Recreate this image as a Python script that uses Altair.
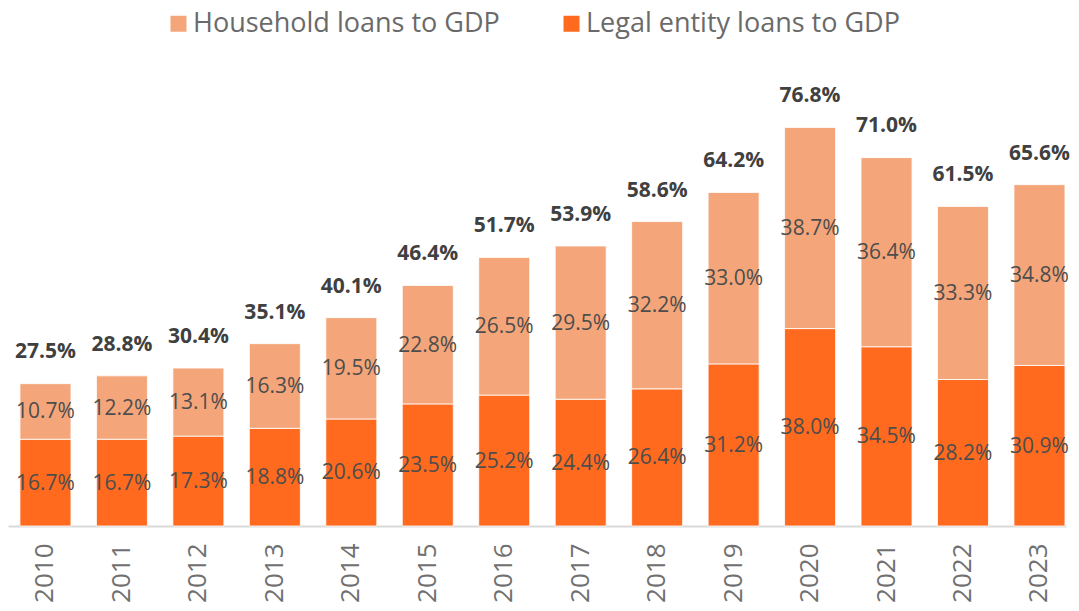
import altair as alt
import pandas as pd

years = [str(y) for y in range(2010, 2024)]
legal = [16.7, 16.7, 17.3, 18.8, 20.6, 23.5, 25.2, 24.4, 26.4, 31.2, 38.0, 34.5, 28.2, 30.9]
household = [10.7, 12.2, 13.1, 16.3, 19.5, 22.8, 26.5, 29.5, 32.2, 33.0, 38.7, 36.4, 33.3, 34.8]
totals = [27.5, 28.8, 30.4, 35.1, 40.1, 46.4, 51.7, 53.9, 58.6, 64.2, 76.8, 71.0, 61.5, 65.6]

S_HH = "Household loans to GDP"
S_LE = "Legal entity loans to GDP"

rows = []
for y, l, h in zip(years, legal, household):
    rows.append({"year": y, "series": S_LE, "value": l, "ord": 0})
    rows.append({"year": y, "series": S_HH, "value": h, "ord": 1})
df = pd.DataFrame(rows)
tot = pd.DataFrame({"year": years, "total": totals})

FONT = "Open Sans"
ymax = 99.7

xenc = alt.X("year:N", sort=years, title=None,
             scale=alt.Scale(paddingInner=0.333, paddingOuter=0.085, align=0.92),
             axis=alt.Axis(labelAngle=-90, labelFontSize=26, labelColor="#707070",
                           labelFont=FONT, labelPadding=17, ticks=False,
                           domainColor="#d9d9d9", domainWidth=2, labelBaseline="middle"))
yscale = alt.Scale(domain=[0, ymax], nice=False)

base = alt.Chart(df).transform_stack(
    stack="value", groupby=["year"], as_=["y0", "y1"], sort=[alt.SortField("ord")]
).transform_calculate(mid="(datum.y0 + datum.y1) / 2",
                      lbl="format(datum.value, '.1f') + '%'")

bars = base.mark_bar(stroke="white", strokeWidth=0.8).encode(
    x=xenc,
    y=alt.Y("y0:Q", scale=yscale, axis=None, title=None),
    y2="y1:Q",
    color=alt.Color("series:N",
                    scale=alt.Scale(domain=[S_HH, S_LE], range=["#F4A67A", "#FF6A1F"]),
                    legend=alt.Legend(title=None, orient="none", legendX=157, legendY=2,
                                      direction="horizontal", columns=2, columnPadding=58,
                                      padding=0, symbolType="square",
                                      symbolSize=256, symbolStrokeWidth=0,
                                      labelFont=FONT, labelFontSize=27, labelColor="#6a6a6a",
                                      labelLimit=500, symbolOffset=0, labelOffset=1)),
)

inner = base.mark_text(font=FONT, fontSize=21, color="#4d4d4d", baseline="middle", dy=1).encode(
    x=alt.X("year:N", sort=years),
    y=alt.Y("mid:Q", scale=yscale),
    text="lbl:N",
)

top = alt.Chart(tot).transform_calculate(lbl="format(datum.total, '.1f') + '%'").mark_text(
    font=FONT, fontSize=21, fontWeight="bold", color="#404040", baseline="middle", dy=-31
).encode(
    x=alt.X("year:N", sort=years),
    y=alt.Y("total:Q", scale=yscale),
    text="lbl:N",
)

chart = alt.layer(bars, inner, top).properties(
    width=1058, height=518,
    autosize=alt.AutoSizeParams(type="none"),
    padding={"left": 0, "top": 0, "right": 5, "bottom": 77}
).configure(background="white").configure_view(strokeWidth=0)

chart.save("out.html", embed_options={"renderer": "svg", "actions": False})
